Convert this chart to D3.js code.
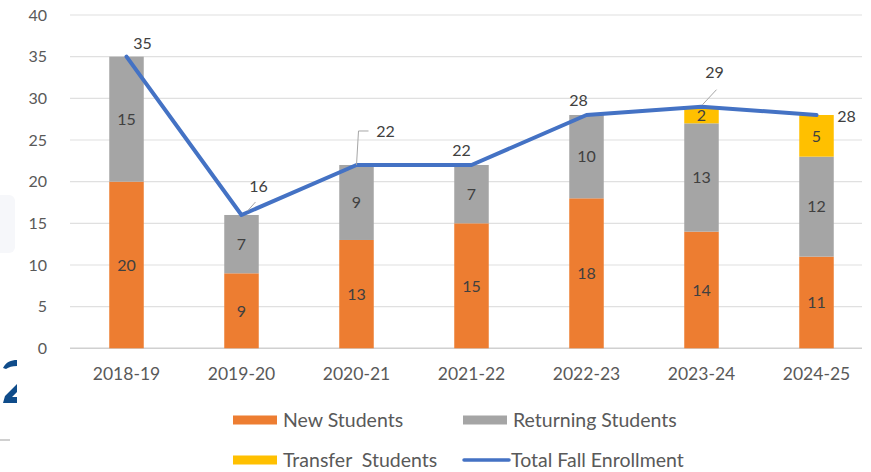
<!DOCTYPE html>
<html>
<head>
<meta charset="utf-8">
<script src="https://cdn.jsdelivr.net/npm/d3@7"></script>
<style>
  body { margin: 0; background: #fff; }
  svg text { font-family: Lato, "Open Sans", sans-serif; }
</style>
</head>
<body>
<svg id="chart" width="871" height="472"></svg>
<script>
// chart data
let years = ['2018-19', '2019-20', '2020-21', '2021-22', '2022-23', '2023-24', '2024-25'];
let newStudents = [20, 9, 13, 15, 18, 14, 11];
let returningStudents = [15, 7, 9, 7, 10, 13, 12];
let transferStudents = [0, 0, 0, 0, 0, 2, 5];
let totalEnrollment = [35, 16, 22, 22, 28, 29, 28];
let yTicks = [0, 5, 10, 15, 20, 25, 30, 35, 40];

let seriesNames = ['New Students', 'Returning Students', 'Transfer  Students'];
let seriesColors = ['#ED7D31', '#A5A5A5', '#FFC000'];
let lineColor = '#4472C4';

// where the total labels sit relative to the point, plus optional leader line
let totalLabelPos = [
  { dx: 16, dy: -13 },
  { dx: 17, dy: -29, leader: [[6, -4], [14, -13]] },
  { dx: 29, dy: -34, leader: [[0, 0], [2, -34], [12, -34]] },
  { dx: -10, dy: -15 },
  { dx: -8, dy: -15 },
  { dx: 13, dy: -34, leader: [[1, -2], [15, -17]] },
  { dx: 30, dy: 1 }
];

let svg = d3.select('#chart');

// page artifacts around the chart (piece of a slide behind it)
svg.append('rect').attr('x', -6).attr('y', 195).attr('width', 21).attr('height', 58)
  .attr('rx', 6).attr('fill', '#f6f7fa');
svg.append('path')
  .attr('d', 'M3,368 C6,362 11,360 17,360 L17,366 C12,366 9,367 6,369 Z ' +
             'M17,384 L5,396 L3,403 L17,403 L17,397 L12,397 L17,392 Z')
  .attr('fill', '#0f4c8a');
svg.append('line').attr('x1', 0).attr('x2', 10).attr('y1', 440).attr('y2', 440)
  .attr('stroke', '#d0d0d0').attr('stroke-width', 2);

let x = d3.scaleBand()
  .domain(years)
  .range([69, 874])
  .paddingInner(0.7)
  .paddingOuter(0.35);

let y = d3.scaleLinear()
  .domain([0, 40])
  .range([348.3, 15]);

let gridRight = 862;

// gridlines
svg.append('g').selectAll('line')
  .data(yTicks)
  .join('line')
  .attr('x1', 70).attr('x2', gridRight)
  .attr('y1', d => y(d)).attr('y2', d => y(d))
  .attr('stroke', d => d === 0 ? '#d0d0d0' : '#e0e0e0')
  .attr('stroke-width', d => d === 0 ? 1.5 : 1.2);

// y axis labels
let yAxis = svg.append('g')
  .attr('transform', 'translate(47,0)')
  .call(d3.axisLeft(y).tickValues(yTicks).tickSize(0).tickPadding(0));
yAxis.select('.domain').remove();
yAxis.selectAll('text')
  .style('font-family', 'Lato, sans-serif')
  .style('font-size', '16px')
  .attr('fill', '#595959');

// x axis labels
let xAxis = svg.append('g')
  .attr('transform', 'translate(0,' + (y(0) + 19) + ')')
  .call(d3.axisBottom(x).tickSize(0).tickPadding(0));
xAxis.select('.domain').remove();
xAxis.selectAll('text')
  .style('font-family', 'Lato, sans-serif')
  .style('font-size', '17.5px')
  .attr('fill', '#595959');

// stacked bars
let rows = years.map((yr, i) => ({
  year: yr,
  s0: newStudents[i],
  s1: returningStudents[i],
  s2: transferStudents[i]
}));
let stack = d3.stack().keys(['s0', 's1', 's2']);
let stacked = stack(rows);

let layers = svg.append('g').selectAll('g')
  .data(stacked)
  .join('g')
  .attr('fill', (d, i) => seriesColors[i]);

layers.selectAll('rect')
  .data(d => d.filter(p => p[1] - p[0] > 0))
  .join('rect')
  .attr('x', d => x(d.data.year))
  .attr('width', x.bandwidth())
  .attr('y', d => y(d[1]))
  .attr('height', d => y(d[0]) - y(d[1]));

layers.selectAll('text')
  .data(d => d.filter(p => p[1] - p[0] > 0))
  .join('text')
  .attr('x', d => x(d.data.year) + x.bandwidth() / 2)
  .attr('y', d => y((d[0] + d[1]) / 2))
  .attr('dy', '0.36em')
  .attr('text-anchor', 'middle')
  .attr('fill', '#404040')
  .style('font-size', '16px')
  .text(d => d[1] - d[0]);

// total line
let cx = d => x(d) + x.bandwidth() / 2;
let line = d3.line()
  .x((d, i) => cx(years[i]))
  .y(d => y(d));

svg.append('path')
  .datum(totalEnrollment)
  .attr('d', line)
  .attr('fill', 'none')
  .attr('stroke', lineColor)
  .attr('stroke-width', 4)
  .attr('stroke-linejoin', 'round')
  .attr('stroke-linecap', 'round');

// total labels and leader lines
totalEnrollment.forEach((v, i) => {
  let px = cx(years[i]);
  let py = y(v);
  let pos = totalLabelPos[i];
  if (pos.leader) {
    svg.append('path')
      .attr('d', d3.line()(pos.leader.map(p => [px + p[0], py + p[1]])))
      .attr('fill', 'none')
      .attr('stroke', '#a6a6a6')
      .attr('stroke-width', 1);
  }
  svg.append('text')
    .attr('x', px + pos.dx)
    .attr('y', py + pos.dy)
    .attr('dy', '0.36em')
    .attr('text-anchor', 'middle')
    .attr('fill', '#404040')
    .style('font-size', '16px')
    .text(v);
});

// legend
let legendItems = [
  { name: seriesNames[0], color: seriesColors[0], type: 'rect', x: 233, y: 420 },
  { name: seriesNames[1], color: seriesColors[1], type: 'rect', x: 463, y: 420 },
  { name: seriesNames[2], color: seriesColors[2], type: 'rect', x: 233, y: 460 },
  { name: 'Total Fall Enrollment', color: lineColor, type: 'line', x: 463, y: 460 }
];

let legend = svg.append('g').selectAll('g')
  .data(legendItems)
  .join('g')
  .attr('transform', d => 'translate(' + d.x + ',' + d.y + ')');

legend.filter(d => d.type === 'rect').append('rect')
  .attr('x', 0).attr('y', -4.5)
  .attr('width', 44).attr('height', 9)
  .attr('fill', d => d.color);

legend.filter(d => d.type === 'line').append('line')
  .attr('x1', 1).attr('x2', 46)
  .attr('y1', 0).attr('y2', 0)
  .attr('stroke', d => d.color)
  .attr('stroke-width', 3.5)
  .attr('stroke-linecap', 'round');

legend.append('text')
  .attr('x', d => d.type === 'line' ? 48 : 50)
  .attr('y', 0)
  .attr('dy', '0.36em')
  .attr('fill', '#595959')
  .style('font-size', '19.5px')
  .style('white-space', 'pre')
  .text(d => d.name);
</script>
</body>
</html>
